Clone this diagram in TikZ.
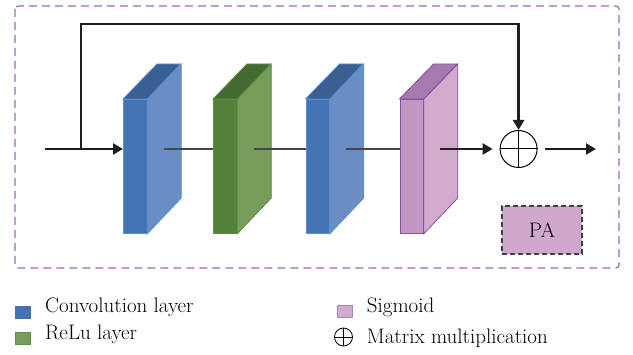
\documentclass[tikz,border=0pt]{standalone}
\usepackage{fontspec}
\usetikzlibrary{arrows.meta}
\definecolor{convfront}{HTML}{4373B4}
\definecolor{convside}{HTML}{6A8EC4}
\definecolor{convtop}{HTML}{3A5F92}
\definecolor{convedge}{HTML}{5B8FD0}
\definecolor{relufront}{HTML}{548139}
\definecolor{reluside}{HTML}{779C5C}
\definecolor{relutop}{HTML}{436A31}
\definecolor{reluedge}{HTML}{5E8E44}
\definecolor{sigfront}{HTML}{C496C4}
\definecolor{sigside}{HTML}{D2AACE}
\definecolor{sigtop}{HTML}{A67AB0}
\definecolor{sigedge}{HTML}{8550A6}
\definecolor{framecol}{HTML}{A066B8}
\definecolor{pafill}{HTML}{D1A8CD}
\tikzset{
  arrowline/.style={->,line width=2.8pt,black!88},
  link/.style={line width=1.3pt,black!72},
  legbox/.style={draw,line width=0.8pt,minimum width=15pt,minimum height=12pt,inner sep=0pt},
  legtext/.style={anchor=base west,inner sep=0pt},
}
\newcommand{\slab}[6]{%
  \node[draw=#6,fill=#3,line width=0.8pt,inner sep=0pt,minimum width=23.5pt,minimum height=134pt,anchor=north west] (#1) at (#2,99) {};
  \filldraw[fill=#4,draw=#6,line width=0.8pt] (#1.north east) -- ++(34,-35) -- ++(0,134) -- (#1.south east) -- cycle;
  \filldraw[fill=#5,draw=#6,line width=0.8pt] (#1.north west) -- ++(34,-35) -- ++(23.5,0) -- (#1.north east) -- cycle;
  \coordinate (#1-in) at (#2,149);
  \coordinate (#1-out) at (#2+40.5,149);
}
\begin{document}
\begin{tikzpicture}[x=1pt,y=-1pt,>={Triangle[length=10pt,width=11pt]},every node/.style={font=\fontsize{21}{24}\selectfont}]
\useasboundingbox (0,0) rectangle (633,355);
\draw[framecol,line width=1.2pt,dash pattern=on 8pt off 5pt,rounded corners=3pt] (15,6) rectangle (619,268);
\slab{conv1}{123}{convfront}{convside}{convtop}{convedge}
\slab{relu}{213}{relufront}{reluside}{relutop}{reluedge}
\slab{conv2}{305.5}{convfront}{convside}{convtop}{convedge}
\slab{sig}{399.5}{sigfront}{sigside}{sigtop}{sigedge}
\node[circle,draw,line width=1pt,minimum size=37pt,inner sep=0pt] (mul) at (518.6,149) {};
\draw[line width=1pt] (mul.north) -- (mul.south) (mul.west) -- (mul.east);
\coordinate (in) at (45,149);
\coordinate (split) at (81,149);
\coordinate (top) at (81,24);
\coordinate (out) at (596,149);
\draw[arrowline] (in) -- (conv1-in);
\draw[arrowline] (split) -- (top) -| (mul.north);
\draw[link] (conv1-out) -- (relu-in);
\draw[link] (relu-out) -- (conv2-in);
\draw[link] (conv2-out) -- (sig-in);
\draw[arrowline,shorten >=7pt] (sig-out) -- (mul.west);
\draw[arrowline,shorten <=7pt] (mul.east) -- (out);
\node[draw=black!75,dashed,line width=1.5pt,dash pattern=on 5pt off 3pt,fill=pafill,minimum width=80pt,minimum height=48pt] (pa) at (542,230) {PA};
\node[legbox,draw=convedge!80!black,fill=convfront] (legconv) at (22.8,312) {};
\node[legbox,draw=reluedge,fill=reluside] (legrelu) at (22.8,338.5) {};
\node[legbox,draw=sigedge!70,fill=sigside] (legsig) at (344.5,311.3) {};
\node[circle,draw,line width=0.8pt,minimum size=18pt,inner sep=0pt] (legmul) at (343.5,337) {};
\draw[line width=0.8pt] (legmul.north) -- (legmul.south) (legmul.west) -- (legmul.east);
\node[legtext] (tconv) at (45,313) {Convolution layer};
\node[legtext] (trelu) at (45,340) {ReLu layer};
\node[legtext] (tsig) at (366.7,313) {Sigmoid};
\node[legtext] (tmul) at (366.7,344) {Matrix multiplication};
\end{tikzpicture}
\end{document}
